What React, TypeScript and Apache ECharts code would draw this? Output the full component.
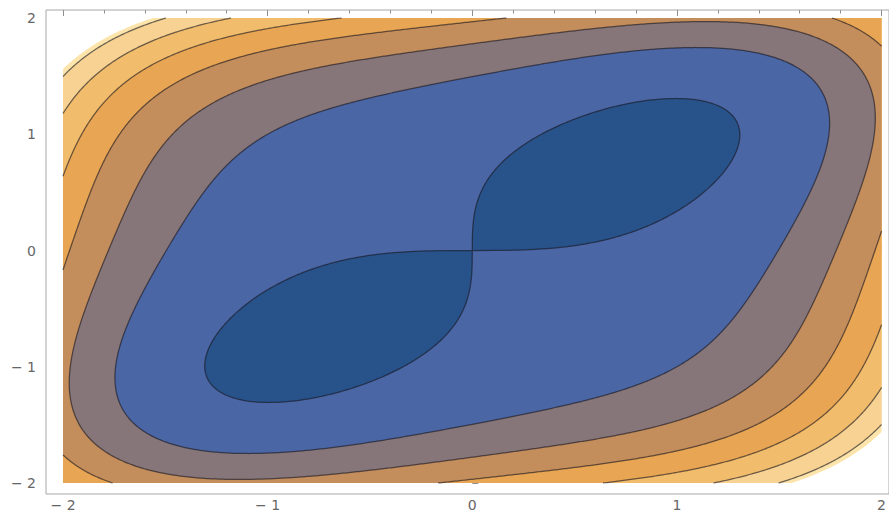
import React, { useEffect, useRef } from "react";
import * as echarts from "echarts";

// Contour plot of f(x, y) = x^4 + y^4 - 3xy on [-2,2] x [-2,2]
const coefX4 = 1;
const coefY4 = 1;
const coefXY = 3;
const contourLevels = [0, 5, 10, 15, 20, 25, 30];
const plotRangeMax = 31.3; // values above are clipped (white)
const bandColors = [
  "#28528a", // < 0
  "#4a66a5", // 0-5
  "#867679", // 5-10
  "#c38d5c", // 10-15
  "#e8a553", // 15-20
  "#f1bc6c", // 20-25
  "#f7d292", // 25-30
  "#fce4aa", // > 30
];
const xRange = [-2, 2];
const yRange = [-2, 2];
const tickStep = 1;
const minorSplit = 5;

const SAMPLES = 1440;

function rLevel(L: number, t: number): number {
  const c = Math.cos(t);
  const s = Math.sin(t);
  const A = coefX4 * c ** 4 + coefY4 * s ** 4;
  const B = coefXY * c * s;
  const u = (B + Math.sqrt(Math.max(0, B * B + 4 * A * L))) / (2 * A);
  return Math.sqrt(Math.max(0, u));
}

function rBox(t: number): number {
  const c = Math.cos(t);
  const s = Math.sin(t);
  let r = Infinity;
  if (c > 1e-12) r = Math.min(r, xRange[1] / c);
  if (c < -1e-12) r = Math.min(r, xRange[0] / c);
  if (s > 1e-12) r = Math.min(r, yRange[1] / s);
  if (s < -1e-12) r = Math.min(r, yRange[0] / s);
  return r;
}

function angleList(): number[] {
  const list: number[] = [];
  for (let i = 0; i < SAMPLES; i++) list.push((2 * Math.PI * i) / SAMPLES);
  const corners = [
    [xRange[1], yRange[1]],
    [xRange[0], yRange[1]],
    [xRange[0], yRange[0]],
    [xRange[1], yRange[0]],
  ];
  corners.forEach(([x, y]) => {
    let a = Math.atan2(y, x);
    if (a < 0) a += 2 * Math.PI;
    list.push(a);
  });
  list.sort((a, b) => a - b);
  return list;
}

type Pt = { x: number; y: number; inside: boolean; cross: boolean };

function crossingAngle(L: number, a: number, b: number): number {
  const g = (t: number) => rLevel(L, t) - rBox(t);
  let lo = a;
  let hi = b;
  const glo = g(lo);
  for (let k = 0; k < 50; k++) {
    const mid = (lo + hi) / 2;
    const gm = g(mid);
    if (gm <= 0 === glo <= 0) lo = mid;
    else hi = mid;
  }
  return (lo + hi) / 2;
}

function traceLevel(L: number): Pt[] {
  const angles = angleList();
  const out: Pt[] = [];
  const n = angles.length;
  for (let i = 0; i < n; i++) {
    const t = angles[i];
    const rl = rLevel(L, t);
    const rb = rBox(t);
    const inside = rl <= rb;
    if (i > 0) {
      const tp = angles[i - 1];
      const insidePrev = rLevel(L, tp) <= rBox(tp);
      if (insidePrev !== inside) {
        const tc = crossingAngle(L, tp, t);
        const rc = rBox(tc);
        out.push({ x: rc * Math.cos(tc), y: rc * Math.sin(tc), inside: true, cross: true });
      }
    }
    const r = Math.min(rl, rb);
    out.push({ x: r * Math.cos(t), y: r * Math.sin(t), inside, cross: false });
  }
  // wrap
  const tl = angles[n - 1];
  const t0 = angles[0] + 2 * Math.PI;
  const inL = rLevel(L, tl) <= rBox(tl);
  const in0 = rLevel(L, t0) <= rBox(t0);
  if (inL !== in0) {
    const tc = crossingAngle(L, tl, t0);
    const rc = rBox(tc);
    out.push({ x: rc * Math.cos(tc), y: rc * Math.sin(tc), inside: true, cross: true });
  }
  return out;
}

function linesForLevel(L: number): number[][][] {
  const pts = traceLevel(L);
  const allInside = pts.every((p) => p.inside);
  if (allInside) {
    const loop = pts.map((p) => [p.x, p.y]);
    loop.push(loop[0]);
    return [loop];
  }
  // rotate to start at first outside point
  const startIdx = pts.findIndex((p) => !p.inside);
  const rot = pts.slice(startIdx).concat(pts.slice(0, startIdx));
  const runs: number[][][] = [];
  let cur: number[][] = [];
  rot.forEach((p) => {
    if (p.inside) cur.push([p.x, p.y]);
    else if (cur.length) {
      runs.push(cur);
      cur = [];
    }
  });
  if (cur.length) runs.push(cur);
  return runs.filter((r) => r.length > 1);
}

function regionPolygon(L: number): number[][] {
  return traceLevel(L).map((p) => [p.x, p.y]);
}

const regionLevels = [plotRangeMax, ...contourLevels.slice().reverse()];
const regionColors = [bandColors[7], ...bandColors.slice(0, 7).reverse()];

function fmt(v: number): string {
  return v < 0 ? "\u2212 " + Math.abs(v) : String(v);
}

export default function App() {
  const ref = useRef<HTMLDivElement>(null);
  useEffect(() => {
    document.body.style.margin = "0";
    if (!ref.current) return;
    const chart = echarts.init(ref.current, undefined, { renderer: "svg" });

    const regionPolys = regionLevels.map((L) => regionPolygon(L));
    const lineRuns: number[][][] = [];
    contourLevels.forEach((L) => linesForLevel(L).forEach((r) => lineRuns.push(r)));

    const tickColor = "#8f8f8f";
    const labelStyle = {
      color: "#666666",
      fontSize: 14,
      fontFamily: "DejaVu Sans",
      formatter: (v: number) => fmt(v),
    };

    const baseAxis = {
      type: "value" as const,
      gridIndex: 1,
      min: xRange[0],
      max: xRange[1],
      interval: tickStep,
      axisLine: { show: false },
      splitLine: { show: false },
      minorSplitLine: { show: false },
      axisTick: { show: true, inside: true, length: 6, lineStyle: { color: tickColor, width: 1 } },
      minorTick: { show: true, splitNumber: minorSplit, length: 3.5, lineStyle: { color: tickColor, width: 1 } },
    };

    chart.setOption({
      animation: false,
      grid: [
        {
          left: 46,
          top: 10,
          width: 854,
          height: 484,
          show: true,
          borderColor: "#a8a8a8",
          borderWidth: 1,
          backgroundColor: "transparent",
        },
        { left: 63, top: 18, width: 820, height: 466 },
      ],
      xAxis: [
        { type: "value", gridIndex: 0, min: 0, max: 1, show: false },
        {
          ...baseAxis,
          position: "bottom",
          offset: 10,
          axisLabel: { ...labelStyle, margin: 5 },
        },
        {
          ...baseAxis,
          position: "top",
          offset: 8,
          axisLabel: { show: false },
        },
      ],
      yAxis: [
        { type: "value", gridIndex: 0, min: 0, max: 1, show: false },
        {
          ...baseAxis,
          min: yRange[0],
          max: yRange[1],
          position: "left",
          offset: 17,
          axisLabel: { ...labelStyle, margin: 10 },
        },
      ],
      series: [
        {
          type: "custom",
          name: "bands",
          xAxisIndex: 1,
          yAxisIndex: 1,
          coordinateSystem: "cartesian2d",
          data: regionLevels.map((_, i) => [0, 0, i]),
          encode: { x: 0, y: 1 },
          silent: true,
          renderItem: (params: any, api: any) => {
            const i = params.dataIndex;
            const pts = regionPolys[i].map((p) => api.coord(p));
            return {
              type: "polygon",
              shape: { points: pts },
              style: { fill: regionColors[i], stroke: "none" },
            };
          },
        },
        {
          type: "custom",
          name: "contours",
          xAxisIndex: 1,
          yAxisIndex: 1,
          coordinateSystem: "cartesian2d",
          data: lineRuns.map((_, i) => [0, 0, i]),
          encode: { x: 0, y: 1 },
          silent: true,
          z: 3,
          renderItem: (params: any, api: any) => {
            const i = params.dataIndex;
            const pts = lineRuns[i].map((p) => api.coord(p));
            return {
              type: "polyline",
              shape: { points: pts },
              style: { fill: "none", stroke: "rgba(25,22,30,0.62)", lineWidth: 1.25 },
            };
          },
        },
      ],
    });
    return () => chart.dispose();
  }, []);
  return <div ref={ref} style={{ width: 889, height: 512 }} />;
}
